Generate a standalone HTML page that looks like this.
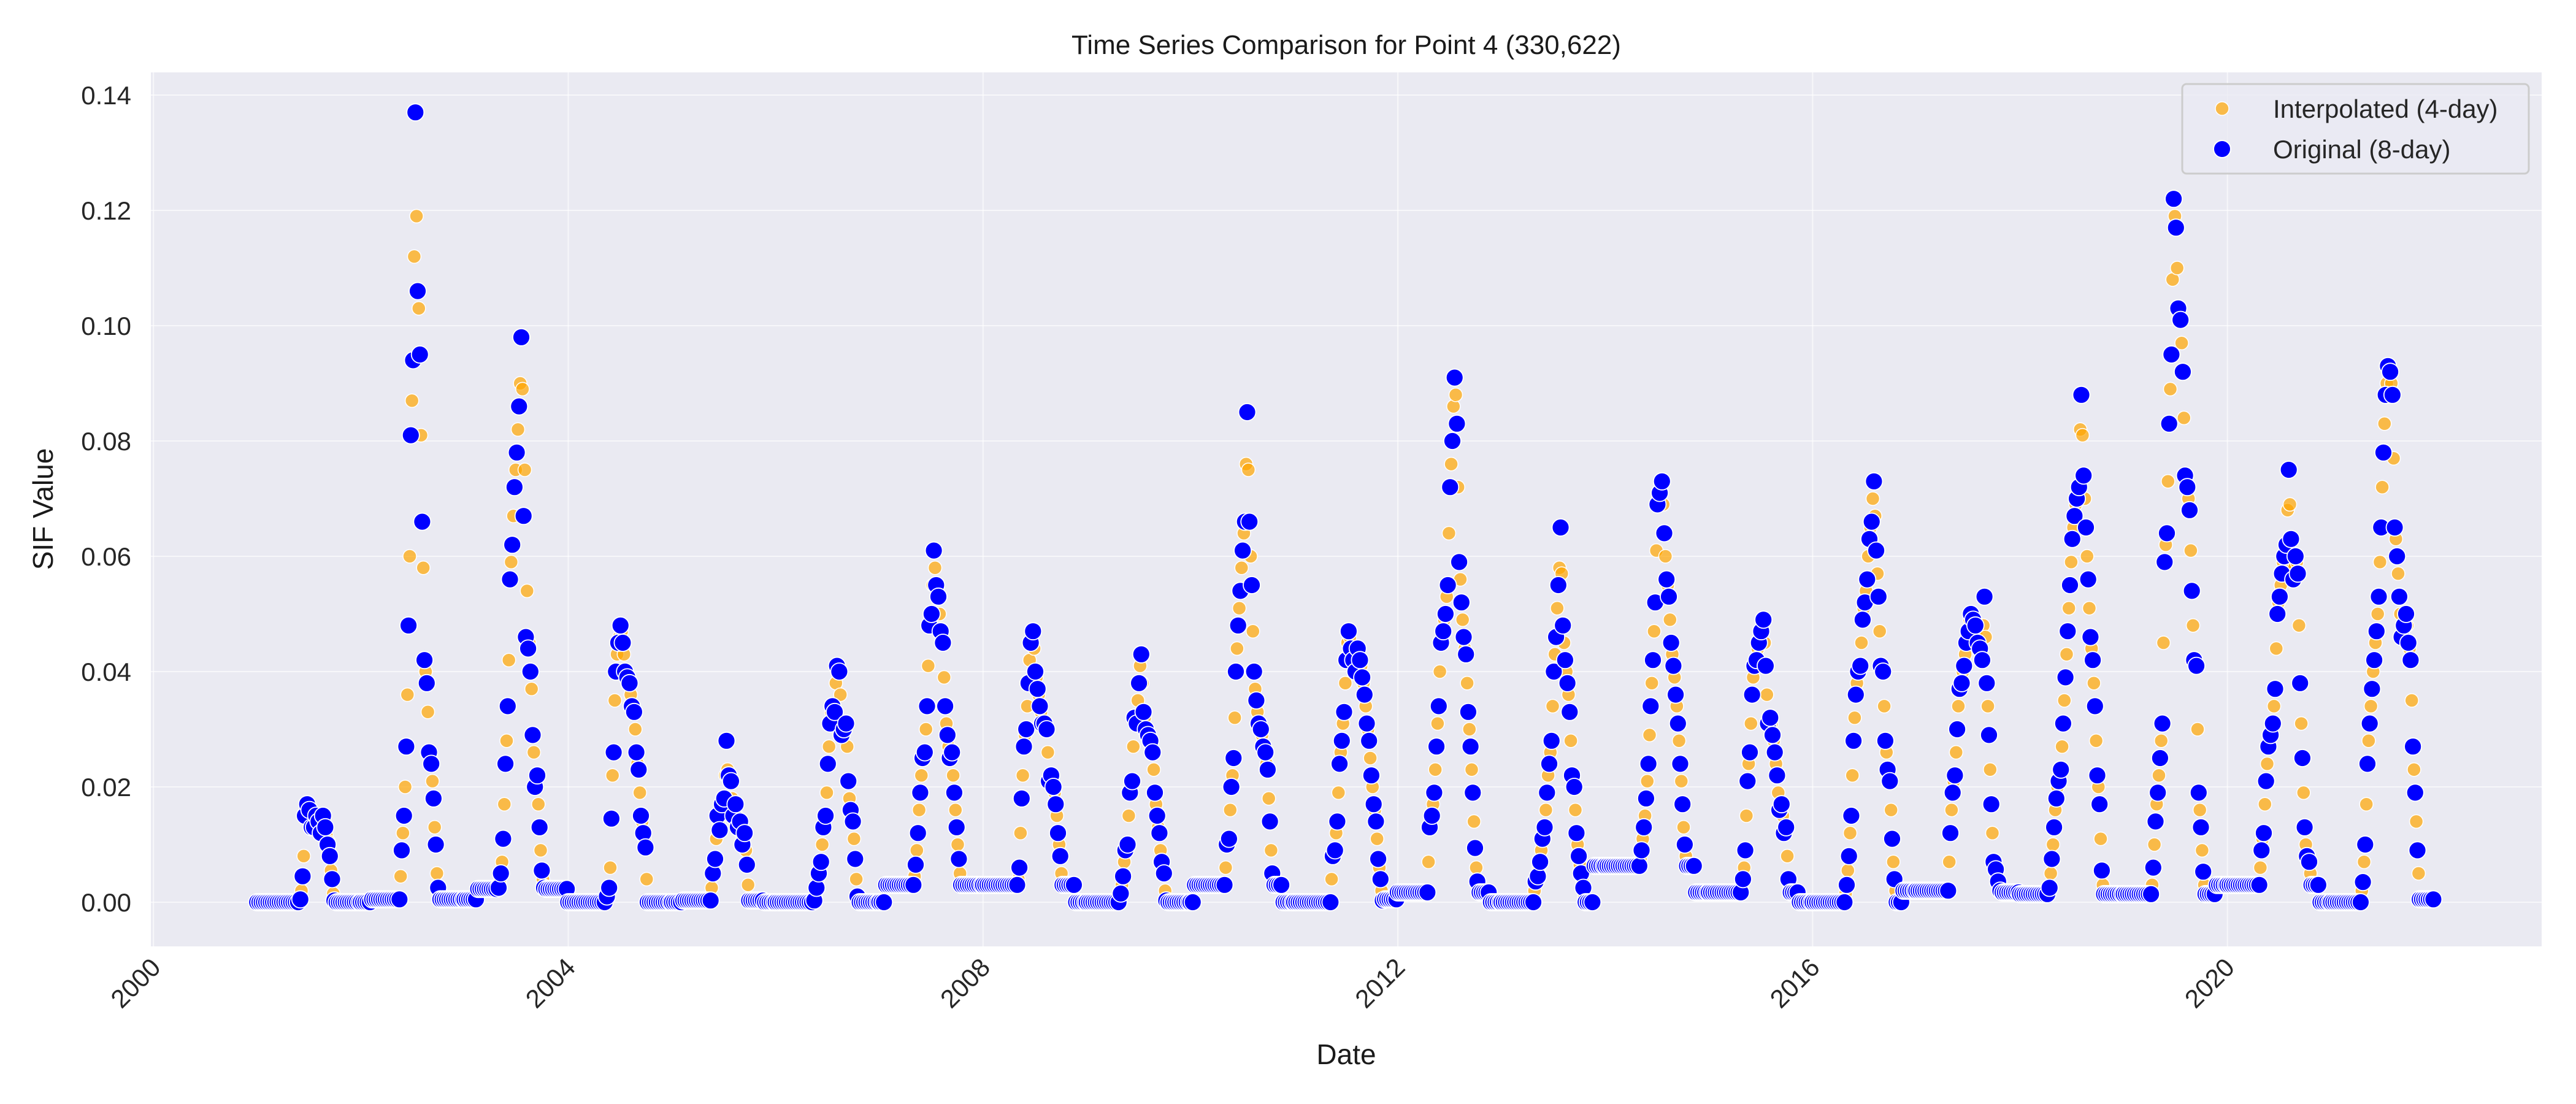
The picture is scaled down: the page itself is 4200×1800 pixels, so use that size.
<!DOCTYPE html>
<html><head><meta charset="utf-8"><style>
html,body{margin:0;padding:0;background:#fff;}
svg{display:block;font-family:"Liberation Sans","DejaVu Sans",sans-serif;}
</style></head><body>
<svg id="chart" width="4200" height="1800" viewBox="0 0 4200 1800" xmlns="http://www.w3.org/2000/svg">
<rect x="0" y="0" width="4200" height="1800" fill="#ffffff"/>
<rect x="246" y="118" width="3898" height="1425" fill="#eaeaf2"/>
<g id="grid"></g>
<g id="orange"></g>
<g id="blue"></g>
<g id="ticks"></g>
<text x="2195" y="88" font-size="44" text-anchor="middle" fill="#1a1a1a">Time Series Comparison for Point 4 (330,622)</text>
<text x="2195" y="1735" font-size="46" text-anchor="middle" fill="#1a1a1a">Date</text>
<text transform="translate(86,830) rotate(-90)" font-size="46" text-anchor="middle" fill="#1a1a1a">SIF Value</text>
<g>
<rect x="3558" y="137" width="565" height="146" rx="7" fill="#eaeaf2" fill-opacity="0.8" stroke="#cccccc" stroke-width="3"/>
<circle cx="3623" cy="177" r="11" fill="#ffa500" fill-opacity="0.7" stroke="#fff" stroke-width="1.5"/>
<text x="3706" y="192" font-size="42" fill="#262626">Interpolated (4-day)</text>
<circle cx="3623" cy="243" r="14" fill="#0000ff" stroke="#fff" stroke-width="2"/>
<text x="3706" y="258" font-size="42" fill="#262626">Original (8-day)</text>
</g>
</svg>
<script>
// values in units of 0.001 SIF
const years = [2001,2002,2003,2004,2005,2006,2007,2008,2009,2010,2011,2012,2013,2014,2015,2016,2017,2018,2019,2020,2021];
const preBase = [[[0,19]],[[0,5],[0.5,12]],[[0.5,6],[2.3,9]],[[0,16]],[[0,5],[0.3,12]],[[0,17]],[[0,3],[3,12]],[[3,15]],[[0,14]],[[0,2],[3,13]],[[0,16]],[[1.7,13]],[[0,14]],[[6.3,15]],[[1.7,14]],[[0,14]],[[2,14]],[[1.4,12]],[[1.4,12]],[[3,14]],[[0,13]]];
const postBase = [[[0,11]],[[0.5,11]],[[2.3,10]],[[0,10]],[[0.3,6],[0,5]],[[0,9]],[[3,9]],[[3,5],[0,5]],[[0,10]],[[3,3],[0,5]],[[0.5,6]],[[1.7,5],[0,5]],[[0,3],[6.3,5]],[[6.3,3],[1.7,6]],[[1.7,3],[0,6]],[[0,2],[2,6]],[[1.7,8]],[[1.4,8]],[[1.4,4],[3,5]],[[3,3],[0,5]],[[0.5,6]]];
const seasonBlue = [
[0.5,4.5,15,17,16,13,13,15,14,12,15,13,10,8,4,0.3],
[0.5,9,15,27,48,81,94,137,106,95,66,42,38,26,24,18,10,2.5],
[2.5,5,11,24,34,56,62,72,78,86,98,67,46,44,40,29,20,22,13,5.5,2.5],
[0,1,2.5,14.5,26,40,45,48,45,40,39,38,34,33,26,23,15,12,9.5,0],
[0.3,5,7.5,15,12.5,17,18,28,22,21,15,17,13,14,10,12,6.5,0.3],
[0.3,2.5,5,7,13,15,24,31,34,33,41,40,29,30,31,21,16,14,7.5,1],
[3,6.5,12,19,25,26,34,48,50,61,55,53,47,45,34,29,25,26,19,13,7.5,3],
[3,6,18,27,30,38,45,47,40,37,34,31,31,30,21,22,20,17,12,8,3],
[0,1.5,4.5,9,10,19,21,32,31,38,43,33,30,29,28,26,19,15,12,7,5,0.3],
[3,10,11,20,25,40,48,54,61,66,85,66,55,40,35,31,30,27,26,23,14,5,3],
[0,8,9,14,24,28,33,42,47,44,42,40,44,42,39,36,31,28,22,17,14,7.5,4,0.3],
[1.7,13,15,19,27,34,45,47,50,55,72,80,91,83,59,52,46,43,33,27,19,9.4,3.6],
[0,3.6,4.5,7,11,13,19,24,28,40,46,55,65,48,42,38,33,22,20,12,8,5,2.5,0],
[6.3,9,13,18,24,34,42,52,69,71,73,64,56,53,45,41,36,31,24,17,10,6.3],
[1.7,4,9,21,26,36,41,42,45,47,49,41,31,32,29,26,22,16,17,12,13,4,1.7],
[0,3,8,15,28,36,40,41,49,52,56,63,66,73,61,53,41,40,28,23,21,11,4,0],
[2,12,19,22,30,37,38,41,45,47,50,49,48,45,44,42,53,38,29,17,7,5.7,3.6,2],
[1.4,2.5,7.5,13,18,21,23,31,39,47,55,63,67,70,72,88,74,65,56,46,42,34,22,17,5.5,1.4],
[1.4,6,14,19,25,31,59,64,83,95,122,117,103,101,92,74,72,68,54,42,41,19,13,5.3,1.4],
[3,9,12,21,27,29,31,37,50,53,57,60,62,75,63,56,60,57,38,25,13,8,7,3],
[0,3.5,10,24,31,37,42,47,53,65,78,88,93,92,88,65,60,53,46,48,50,45,42,27,19,9,0.5]
];
const seasonOrangeMid = [
[2,8,16,16.5,14.5,13,14,14.5,13,13.5,14,11.5,10.5,5.5,1.5],
[4.5,12,20,36,60,87,112,119,103,81,58,40,33,25,21,13,5],
[3.5,7,17,28,42,59,67,75,82,90,89,75,54,45,37,26,21,17,9,4],
[0.4,1.5,6,22,35,43,46,47,43,39,38,36,33,30,24,19,14,11,4],
[2.5,6,11,14,15,17,22,23,22,18,16,15,13,12,11,9,3],
[1,4,6,10,14,19,27,33,34,38,41,36,30,30,27,18,15,11,4],
[4.5,9,16,22,26,30,41,49,55,58,54,50,46,39,31,27,25,22,16,10,5],
[4,12,22,29,34,42,46,44,39,36,33,31,31,26,22,21,19,15,10,5],
[0.5,3,7,9.5,15,20,27,32,35,41,38,32,30,29,27,23,17,13,9,6,2],
[6,10,16,22,32,44,51,58,64,76,75,60,47,37,33,30,29,26,24,18,9,4],
[4,8.5,12,19,26,31,38,45,46,43,41,42,43,41,38,34,30,25,20,16,11,6,2],
[7,14,17,23,31,40,46,49,53,64,76,86,88,72,56,49,44,38,30,23,14,6],
[2,4,6,9,12,16,22,26,34,43,51,58,57,45,40,36,28,21,16,10,6.5,4,1],
[7.5,11,15,21,29,38,47,61,70,72,69,60,55,49,43,39,34,28,21,13,8],
[3,6,15,24,31,39,42,44,46,48,45,36,32,31,28,24,19,17,15,13,8,3],
[1.5,5.5,12,22,32,38,41,45,51,54,60,65,70,67,57,47,41,34,26,22,16,7,2],
[7,16,21,26,34,38,40,43,46,49,50,49,47,45,43,48,46,34,23,12,6,4.5,2.5],
[2,5,10,16,20,22,27,35,43,51,59,65,69,71,82,81,70,60,51,44,38,28,20,11,3],
[3,10,17,22,28,45,62,73,89,108,119,110,102,97,84,73,70,61,48,42,30,16,9,3],
[6,11,17,24,28,30,34,44,52,55,59,61,68,69,59,58,59,48,31,19,10,7.5,5],
[2,7,17,28,34,40,45,50,59,72,83,90,93,90,77,63,57,50,47,49,48,44,35,23,14,5]
];
const yTicks = [0,0.02,0.04,0.06,0.08,0.10,0.12,0.14];
const yTickLabels = ["0.00","0.02","0.04","0.06","0.08","0.10","0.12","0.14"];
const xTicks = [2000,2004,2008,2012,2016,2020];
const xTickLabels = ["2000","2004","2008","2012","2016","2020"];

const NS = "http://www.w3.org/2000/svg";
const PL = 246, PR = 4144, PT = 118, PB = 1543;
const XMIN = 1999.975, XMAX = 2023.03;
function xS(t){ return PL + (t - XMIN) / (XMAX - XMIN) * (PR - PL); }
function yS(v){ return 1471 - v * 9400; }
function mk(tag, attrs){ const e = document.createElementNS(NS, tag); for (const k in attrs) e.setAttribute(k, attrs[k]); return e; }

const grid = document.getElementById('grid');
const ticks = document.getElementById('ticks');
yTicks.forEach((v, i) => {
  const l = mk('line', {x1: PL, x2: PR, y1: yS(v), y2: yS(v), stroke: '#ffffff', 'stroke-width': 2, 'stroke-opacity': 0.6});
  
  
  grid.appendChild(l);
  const t = mk('text', {x: 214, y: yS(v) + 15, 'font-size': 42, 'text-anchor': 'end', fill: '#262626'});
  t.textContent = yTickLabels[i];
  
  
  ticks.appendChild(t);
});
xTicks.forEach((v, i) => {
  const l = mk('line', {x1: xS(v), x2: xS(v), y1: PT, y2: PB, stroke: '#ffffff', 'stroke-width': 2, 'stroke-opacity': 0.6});
  
  
  grid.appendChild(l);
  const t = mk('text', {transform: 'translate(' + (xS(v) + 14) + ',1580) rotate(-45)', 'font-size': 42, 'text-anchor': 'end', fill: '#262626'});
  t.textContent = xTickLabels[i];
  
  
  ticks.appendChild(t);
});

const og = document.getElementById('orange');
const bg = document.getElementById('blue');
const DAY = 1 / 365.25;
years.forEach((yr, k) => {
  const vals = [];
  preBase[k].forEach(p => { for (let n = 0; n < p[1]; n++) vals.push(p[0]); });
  const start = vals.length;
  seasonBlue[k].forEach(v => vals.push(v));
  const end = vals.length - 1;
  postBase[k].forEach(p => { for (let n = 0; n < p[1]; n++) vals.push(p[0]); });
  vals.forEach((v, i) => {
    const t = yr + 8 * i * DAY;
    let mid = v;
    if (i >= start && i < end) mid = seasonOrangeMid[k][i - start];
    [[t, v], [t + 4 * DAY, mid]].forEach(pt => {
      const c = mk('circle', {cx: xS(pt[0]).toFixed(1), cy: yS(pt[1] / 1000).toFixed(1), r: 11, fill: '#ffa500', 'fill-opacity': 0.7, stroke: '#ffffff', 'stroke-width': 1.5});
      
      
      og.appendChild(c);
    });
    const b = mk('circle', {cx: xS(t).toFixed(1), cy: yS(v / 1000).toFixed(1), r: 14, fill: '#0000ff', stroke: '#ffffff', 'stroke-width': 1.8});
    
    
    bg.appendChild(b);
  });
});
</script>
</body></html>
